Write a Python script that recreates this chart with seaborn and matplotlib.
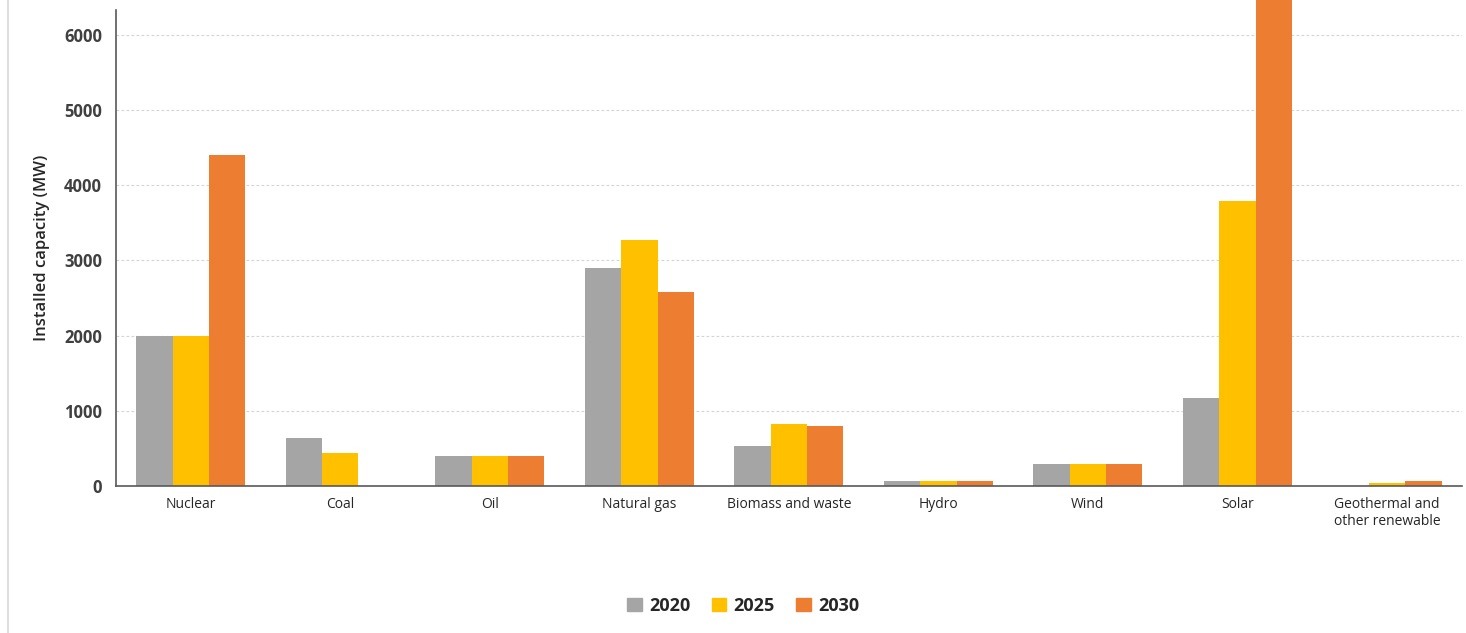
import numpy as np
import pandas as pd
import matplotlib
matplotlib.use("Agg")
import matplotlib.pyplot as plt
import seaborn as sns
from matplotlib.lines import Line2D

# --- Data (MW) ---
categories = ["Nuclear", "Coal", "Oil", "Natural gas", "Biomass and waste",
              "Hydro", "Wind", "Solar", "Geothermal and\nother renewable"]
years = ["2020", "2025", "2030"]
cap_2020 = [2000, 640, 400, 2900, 530, 65, 290, 1165, 0]
cap_2025 = [2000, 440, 400, 3270, 830, 65, 290, 3790, 40]
cap_2030 = [4400, 0, 400, 2580, 800, 65, 290, 6500, 65]

colors = ["#A5A5A5", "#FFC000", "#ED7D31"]

df = pd.DataFrame({
    "category": categories * 3,
    "year": [y for y in years for _ in categories],
    "value": cap_2020 + cap_2025 + cap_2030,
})

sns.set_theme(style="white")
plt.rcParams["font.family"] = ["Open Sans", "DejaVu Sans"]

fig = plt.figure(figsize=(14.66, 6.33), dpi=100)
ax = fig.add_axes([0.0791, 0.2322, 0.918, 0.752])

sns.barplot(data=df, x="category", y="value", hue="year", palette=colors,
            width=0.73, saturation=1, linewidth=0, ax=ax, legend=False)

# the tallest bar runs past the top of the axes in the original
for p in ax.patches:
    p.set_clip_on(False)

ax.set_ylim(0, 6330)
ax.set_yticks([0, 1000, 2000, 3000, 4000, 5000, 6000])
ax.yaxis.grid(True, linestyle=(0, (2.5, 2)), color="#D4D4D4", linewidth=0.8)
ax.set_axisbelow(True)
for s in ["top", "right"]:
    ax.spines[s].set_visible(False)
for s in ["left", "bottom"]:
    ax.spines[s].set_color("#595959")
    ax.spines[s].set_linewidth(1.2)

ax.tick_params(axis="y", length=0, labelsize=12, pad=10)
ax.tick_params(axis="x", length=0, labelsize=10, pad=8)
for lbl in ax.get_yticklabels():
    lbl.set_fontweight("bold")
    lbl.set_color("#404040")
for lbl in ax.get_xticklabels():
    lbl.set_color("#262626")
ax.set_xlabel("")
ax.set_ylabel("Installed capacity (MW)", fontsize=12, fontweight="semibold",
              color="#262626", labelpad=10)

handles = [plt.Rectangle((0, 0), 1, 1, color=c) for c in colors]
fig.legend(handles, years, loc="center", bbox_to_anchor=(0.507, 0.043), ncol=3,
           frameon=False, handlelength=0.8, handleheight=0.8, handletextpad=0.4,
           columnspacing=1.2, prop={"size": 13, "weight": "bold"})

# thin frame line on the left edge
fig.add_artist(Line2D([0.0055, 0.0055], [0, 1], color="#D9D9D9", linewidth=1.2,
                      transform=fig.transFigure))

fig.savefig("out.png", dpi=100)
